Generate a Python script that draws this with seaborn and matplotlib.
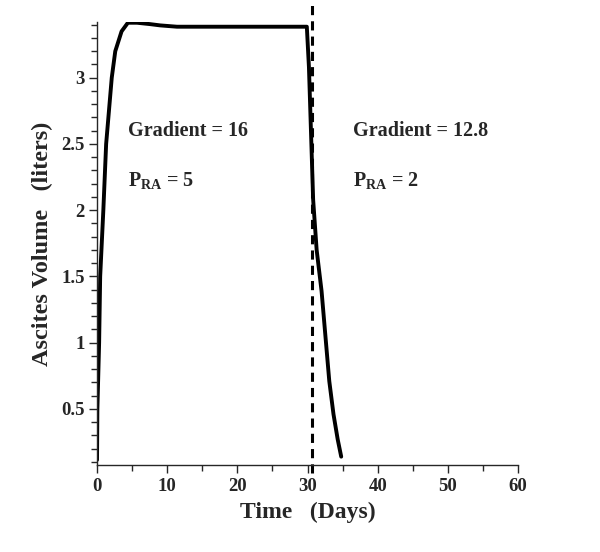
import matplotlib
matplotlib.use("Agg")
import matplotlib.pyplot as plt
import seaborn as sns
import pandas as pd
from matplotlib.ticker import MultipleLocator

time_days = [0, 0.05, 0.3, 0.45, 0.9, 1.3, 2.1, 2.6, 3.5, 4.4, 5.7, 7.5, 9.0, 11.4, 20.0, 29.9,
             30.2, 30.8, 31.3, 32.0, 33.1, 33.7, 34.3, 34.8]
volume_l = [0.115, 0.5, 1.0, 1.5, 2.0, 2.5, 3.0, 3.2, 3.35, 3.415, 3.415, 3.405, 3.395, 3.385, 3.385, 3.385,
            3.08, 2.08, 1.7, 1.39, 0.71, 0.46, 0.27, 0.14]
switch_day = 30.6
x_ticks = [0, 10, 20, 30, 40, 50, 60]
y_ticks = [0.5, 1, 1.5, 2, 2.5, 3]
annotations = [
    (4.4, 2.6, "Gradient = 16"),
    (4.4, 2.22, r"P$_{\mathbf{RA}}$ = 5"),
    (36.5, 2.6, "Gradient = 12.8"),
    (36.5, 2.22, r"P$_{\mathbf{RA}}$ = 2"),
]

sns.set_style("ticks")
plt.rcParams["font.family"] = ["Liberation Serif", "DejaVu Serif"]
plt.rcParams["mathtext.fontset"] = "custom"
plt.rcParams["mathtext.rm"] = "Liberation Serif:bold"
plt.rcParams["mathtext.bf"] = "Liberation Serif:bold"

df = pd.DataFrame({"Time": time_days, "Volume": volume_l})

fig = plt.figure(figsize=(6, 5.52), dpi=100)
ax = fig.add_axes([0.1617, 0.1576, 0.7017, 0.8024])
sns.lineplot(data=df, x="Time", y="Volume", ax=ax, sort=False, estimator=None,
             color="black", linewidth=2.8)

ax.plot([switch_day, switch_day], [0.02, 3.56], color="black", linestyle=(0, (3, 2)),
        linewidth=2.2, clip_on=False)

ax.set_xlim(0, 60)
ax.set_ylim(0.077, 3.42)
ax.set_xticks(x_ticks)
ax.set_yticks(y_ticks)
ax.set_yticklabels([f"{v:g}" for v in y_ticks])
ax.xaxis.set_minor_locator(MultipleLocator(5))
ax.yaxis.set_minor_locator(MultipleLocator(0.1))
for side in ["top", "right"]:
    ax.spines[side].set_visible(False)
for side in ["left", "bottom"]:
    ax.spines[side].set_linewidth(1.0)
ax.tick_params(which="major", length=6, width=1, labelsize=13.5, pad=3)
ax.tick_params(which="minor", length=4, width=1)
for lab in ax.get_xticklabels() + ax.get_yticklabels():
    lab.set_fontweight("bold")

ax.set_xlabel("Time   (Days)", fontsize=17, fontweight="bold", labelpad=5)
ax.set_ylabel("Ascites Volume   (liters)", fontsize=17.5, fontweight="bold", labelpad=6)

for x, y, t in annotations:
    ax.text(x, y, t, fontsize=14.5, fontweight="bold", va="center", ha="left")

fig.savefig("out.png", dpi=100)
